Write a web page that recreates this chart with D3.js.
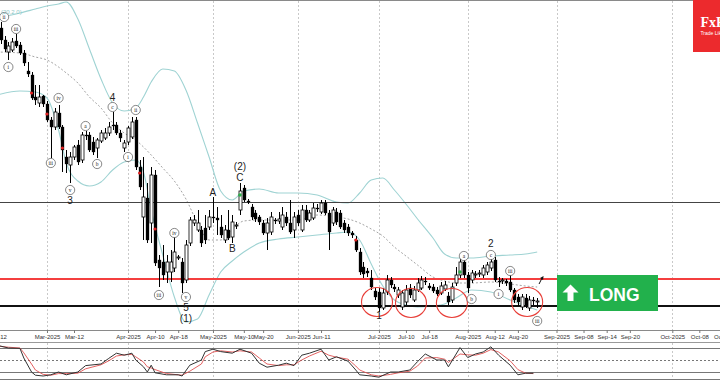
<!DOCTYPE html>
<html><head><meta charset="utf-8">
<script src="https://cdn.jsdelivr.net/npm/d3@7"></script>
<style>body{margin:0;background:#fff}svg{display:block}</style>
</head><body>
<svg id="c" width="720" height="380"></svg>
<script>
// ---------- DATA ----------
const startDate = "2025-02-12"; // first candle, weekdays after that
const opens  = [415,402,390,378,380,389,385,377,359,355,333,327,334,326,310,303,317,303,273,265,273,285,270,295,295,288,282,289,292,297,305,305,297,282,288,293,310,263,213,232,207,255,170,168,158,158,162,172,168,150,187,207,200,200,202,203,213,212,203,190,200,193,204,220,242,229,223,217,213,207,197,198,210,209,203,213,207,200,215,200,220,210,212,222,218,227,217,207,218,217,207,203,197,190,178,163,159,152,139,138,122,138,150,143,135,123,128,142,130,140,142,149,144,143,140,137,141,134,130,147,155,168,155,150,155,156,155,158,162,170,149,149,149,148,140,133,123,132,122,130,128];
const highs  = [420,408,394,388,392,396,388,380,368,358,345,345,335,329,313,322,325,305,280,278,285,290,298,299,298,293,292,300,302,308,318,308,300,290,304,313,313,270,273,247,263,260,175,185,175,180,193,175,172,190,213,215,220,204,215,220,233,223,215,205,220,215,208,247,245,231,226,220,215,210,212,218,212,218,223,218,230,218,220,225,225,220,227,226,230,230,220,223,222,220,210,206,199,194,182,168,162,160,142,142,142,155,153,146,143,140,145,146,144,152,154,153,147,146,143,148,149,138,147,163,171,171,158,160,159,160,165,168,172,173,153,152,151,155,142,136,136,136,134,133,132];
const lows   = [400,386,378,370,378,382,375,364,353,330,325,323,323,308,272,300,301,258,257,247,270,265,267,290,278,275,272,287,290,294,300,295,288,278,285,291,260,240,190,187,187,164,143,150,147,148,158,170,137,147,184,204,198,183,186,200,207,195,192,187,190,187,201,215,228,226,210,208,205,195,180,195,206,206,200,204,196,192,204,198,208,208,210,218,216,215,180,204,205,201,197,194,192,178,155,152,153,140,130,118,120,135,142,138,132,120,125,132,128,138,140,145,140,137,134,135,139,125,127,144,152,152,137,147,152,153,152,155,159,148,143,146,144,138,127,124,120,122,119,125,122];
const closes = [404,390,381,384,388,384,377,367,356,332,330,333,326,310,303,318,303,280,266,273,283,268,295,294,280,278,290,297,297,303,304,297,292,287,302,308,263,243,233,190,255,167,162,155,168,168,178,173,147,185,210,210,207,187,190,213,212,210,195,200,192,208,205,239,230,228,213,211,208,197,207,213,209,211,215,207,198,213,207,220,210,217,222,221,227,217,198,220,208,203,200,197,195,180,158,156,157,143,133,122,137,150,145,141,140,137,140,135,140,147,150,148,142,139,136,144,145,128,143,155,168,155,142,157,156,157,162,165,168,150,148,150,147,140,130,128,133,125,130,129,129];

// Bollinger-band lines, at these candle indices
const bandIdx   = [0,6,10,13,16,18,21,24,27,30,33,36,38,40,43,46,49,52,55,58,61,64,68,73,78,83,88,91,94,97,100,103,106,109,113,116,119,123,128,133,137,140];
const bandUpper = [412,417,421,424,426,428,411,381,351,327,319,322,333,348,361,359,340,307,273,239,230,239,241,237,237,235,228,227,237,250,252,240,226,211,192,176,172,172,174,175,176,178];
const bandMid   = [378,377,373,370,363,357,347,333,322,307,297,290,283,275,262,249,231,207,190,190,201,209,210,210,210,215,213,211,207,201,194,183,174,165,153,149,147,147,148,146,144,143];
const bandLower = [335,339,338,332,300,267,249,244,248,260,268,270,258,220,175,133,108,111,135,158,169,178,187,191,193,195,197,198,190,166,144,130,125,123,124,126,132,140,138,130,124,120];

// Stochastic oscillator (%K black, %D red)
const stochIdx = [0,3,6,7,9,10,12,14,16,18,21,23,27,29,31,33,35,36,38,39,40,41,44,47,48,50,53,54,56,58,61,63,66,68,70,73,75,77,79,81,84,86,88,91,93,94,97,99,102,104,107,109,111,114,116,117,120,122,124,126,128,130,133,135,137,139];
const stochK = [87,80,79,55,20,12,10,13,20,13,20,36,40,54,67,62,67,50,33,20,37,18,13,13,10,37,50,71,77,71,67,77,67,42,32,37,42,36,62,67,77,50,58,47,25,13,10,7,20,20,25,46,65,50,50,33,81,56,65,70,83,62,37,13,17,17];
const stochD = [85,82,80,68,40,25,14,12,16,16,17,28,38,48,60,63,64,58,45,33,30,26,16,13,12,22,40,58,70,73,70,73,70,55,40,36,38,38,50,60,72,62,57,52,35,25,13,10,14,18,22,35,55,56,52,44,65,63,62,67,76,70,48,26,17,16];
const stochLevels = [80, 50, 20];

// horizontal levels
const levelThin = 228, levelRed = 151, levelBlack = 124;

// x-axis ticks
const tickDates  = ["2025-02-12","2025-03-03","2025-03-12","2025-04-01","2025-04-10","2025-04-18","2025-05-01","2025-05-13","2025-05-20","2025-06-02","2025-06-10","2025-07-01","2025-07-10","2025-07-18","2025-08-01","2025-08-12","2025-08-20","2025-09-01","2025-09-08","2025-09-14","2025-09-20","2025-10-01","2025-10-08","2025-10-14"];
const tickLabels = ["Feb-12","Mar-2025","Mar-12","Apr-2025","Apr-10","Apr-18","May-2025","May-10","May-20","Jun-2025","Jun-11","Jul-2025","Jul-10","Jul-18","Aug-2025","Aug-12","Aug-20","Sep-2025","Sep-08","Sep-14","Sep-20","Oct-2025","Oct-08","Oct-14"];
const monthStarts = ["2025-03-03","2025-04-01","2025-05-01","2025-06-02","2025-07-01","2025-08-01","2025-09-01","2025-10-01"];

// wave labels: text, candle index, price, circled?
const waveText   = ["ii","i","iii","iii","iv","v","3","a","b","c","4","i","ii","iii","iv","v","5","(1)","A","B","(2)","C","1","a","b","c","2","i","iii","iii"];
const waveIdx    = [1.9,3,5,14,16,19,19,23,26,30,30,34,36,42,46,49,49,49,56,61,63,63,99,121,123,128,128,130,133,140];
const wavePrice  = [413,363,401,267,332,240,230,304,266,323,333,273,320,135,197,133,123,112,238,182,264,253,115,174,131,175,187,136,159,109];
const waveCircle = [1,1,1,1,1,1,0,1,1,1,0,1,1,1,1,1,0,0,0,0,0,0,0,1,1,1,0,1,1,1];

// signal dots
const redDotIdx = [9,13,17,37,41,93], redDotPrice = [337,316,282,257,201,190];
const greenDotIdx = [63,120], greenDotPrice = [235,158];

// red rings around the lows
const ringIdx = [98.5,107.3,117.9,137.4], ringPrice = [128,127,127,128];

// ---------- BUILD ----------
const parse = d3.timeParse("%Y-%m-%d");
const dates = [];
{ let d = parse(startDate); while (dates.length < opens.length) { const w = d.getDay(); if (w !== 0 && w !== 6) dates.push(new Date(d)); d = d3.timeDay.offset(d, 1); } }
const lastDate = dates[dates.length - 1];
function slotOf(ds) {
  const d = parse(ds);
  if (d <= lastDate) { const i = dates.findIndex(t => +t >= +d); return i; }
  return dates.length - 1 + d3.timeDay.count(lastDate, d);
}

const W = 720;
const x = d3.scaleLinear().domain([0, 200]).range([-3.2, -3.2 + 200 * 3.86]);
const y = d3.scaleLinear().domain([100, 430]).range([330, 0]);
const ys = d3.scaleLinear().domain([0, 100]).range([380, 340]);

const svg = d3.select("#c");
svg.append("rect").attr("width", 720).attr("height", 380).attr("fill", "#fff");
const defs = svg.append("defs");
defs.append("clipPath").attr("id", "main").append("rect").attr("x", 0).attr("y", 1).attr("width", 720).attr("height", 329);
defs.append("clipPath").attr("id", "sub").append("rect").attr("x", 0).attr("y", 343).attr("width", 720).attr("height", 37);

// vertical month grid
const grid = svg.append("g").attr("stroke", "#c9c9c9").attr("stroke-dasharray", "2,2").attr("stroke-width", 1);
monthStarts.forEach(m => {
  const xx = Math.round(x(slotOf(m))) + 0.5;
  grid.append("line").attr("x1", xx).attr("x2", xx).attr("y1", 1).attr("y2", 330);
  grid.append("line").attr("x1", xx).attr("x2", xx).attr("y1", 343).attr("y2", 379);
});

// top border
svg.append("line").attr("x1", 0).attr("x2", W).attr("y1", 0.5).attr("y2", 0.5).attr("stroke", "#8a8a8a");

const main = svg.append("g").attr("clip-path", "url(#main)");

// bands
const lineB = d3.line().x((d, i) => x(bandIdx[i])).y(d => y(d)).curve(d3.curveMonotoneX);
main.append("path").attr("d", lineB(bandUpper)).attr("fill", "none").attr("stroke", "#9fd3d3").attr("stroke-width", 1.1);
main.append("path").attr("d", lineB(bandLower)).attr("fill", "none").attr("stroke", "#9fd3d3").attr("stroke-width", 1.1);
main.append("path").attr("d", lineB(bandMid)).attr("fill", "none").attr("stroke", "#9a9a9a").attr("stroke-width", 0.9).attr("stroke-dasharray", "2,2");

// horizontal levels
main.append("line").attr("x1", 0).attr("x2", W).attr("y1", Math.round(y(levelThin)) + 0.5).attr("y2", Math.round(y(levelThin)) + 0.5).attr("stroke", "#444").attr("stroke-width", 1);
main.append("line").attr("x1", 0).attr("x2", W).attr("y1", y(levelRed)).attr("y2", y(levelRed)).attr("stroke", "#f43f3f").attr("stroke-width", 2.2);
main.append("line").attr("x1", 0).attr("x2", W).attr("y1", y(levelBlack)).attr("y2", y(levelBlack)).attr("stroke", "#111").attr("stroke-width", 2);

// candles
const cg = main.append("g");
opens.forEach((o, i) => {
  const c = closes[i], cx = Math.round(x(i)) + 0.5;
  cg.append("line").attr("x1", cx).attr("x2", cx).attr("y1", y(highs[i])).attr("y2", y(lows[i])).attr("stroke", "#000").attr("stroke-width", 1);
  const top = y(Math.max(o, c)), bot = y(Math.min(o, c));
  const up = c >= o;
  cg.append("rect").attr("x", cx - 1.5).attr("y", top).attr("width", 3).attr("height", Math.max(1, bot - top))
    .attr("fill", up ? "#fff" : "#000").attr("stroke", "#000").attr("stroke-width", up ? 0.8 : 0.3);
});

// signal dots
redDotIdx.forEach((d, i) => main.append("circle").attr("cx", x(d)).attr("cy", y(redDotPrice[i])).attr("r", 1.6).attr("fill", "#e02020"));
greenDotIdx.forEach((d, i) => main.append("circle").attr("cx", x(d)).attr("cy", y(greenDotPrice[i])).attr("r", 1.8).attr("fill", "#2fb14a"));

// red rings
ringIdx.forEach((d, i) => main.append("ellipse").attr("cx", x(d)).attr("cy", y(ringPrice[i])).attr("rx", 15.5).attr("ry", 14.5)
  .attr("fill", "none").attr("stroke", "#e8403a").attr("stroke-width", 1.1));

// wave labels
waveText.forEach((t, i) => {
  const cx = x(waveIdx[i]), cy = y(wavePrice[i]);
  if (waveCircle[i]) {
    main.append("circle").attr("cx", cx).attr("cy", cy).attr("r", 4.6).attr("fill", "#fff").attr("stroke", "#555").attr("stroke-width", 0.7);
    main.append("text").attr("x", cx).attr("y", cy + 0.3).attr("text-anchor", "middle").attr("dominant-baseline", "central")
      .attr("font-family", "Liberation Serif").attr("font-size", 5.5).attr("fill", "#222").text(t);
  } else {
    main.append("text").attr("x", cx).attr("y", cy).attr("text-anchor", "middle").attr("dominant-baseline", "central")
      .attr("font-family", "Liberation Sans").attr("font-size", 10).attr("fill", "#222").text(t);
  }
});

// small arrow at the end
{
  const ax = x(141), ay = y(150);
  main.append("path").attr("d", `M${ax-2},${ay+4} L${ax+1},${ay-2}`).attr("stroke", "#111").attr("stroke-width", 1);
  main.append("path").attr("d", `M${ax+2.5},${ay-4} L${ax-1},${ay-2} L${ax+2},${ay} Z`).attr("fill", "#111");
}

// indicator caption
svg.append("text").attr("x", 1).attr("y", 14).attr("font-family", "Liberation Sans").attr("font-size", 6).attr("fill", "#8cc6c6").text("(20,2.0)");

// LONG box
{
  const g = svg.append("g");
  g.append("rect").attr("x", 557).attr("y", 275).attr("width", 101).attr("height", 36).attr("fill", "#22b14c");
  g.append("path").attr("d", "M570.5,284.5 L578.5,292.5 L573.5,292.5 L573.5,301 L567.5,301 L567.5,292.5 L562.5,292.5 Z").attr("fill", "#fff");
  g.append("text").attr("x", 589).attr("y", 300.5).attr("font-family", "Liberation Sans").attr("font-weight", "bold").attr("font-size", 17.5).attr("fill", "#fff").text("LONG");
}

// logo
{
  const g = svg.append("g");
  g.append("rect").attr("x", 693).attr("y", 0).attr("width", 27).attr("height", 52).attr("fill", "#ec2a2d");
  g.append("text").attr("x", 700.5).attr("y", 27).attr("font-family", "Liberation Serif").attr("font-weight", "bold").attr("font-size", 14).attr("fill", "#fff").text("FxPro");
  g.append("text").attr("x", 700.5).attr("y", 34.5).attr("font-family", "Liberation Sans").attr("font-size", 5).attr("fill", "#fff").text("Trade Like a Pro");
}

// x axis
const tickSlots = tickDates.map(slotOf);
const axis = d3.axisBottom(x).tickValues(tickSlots).tickFormat((d, i) => tickLabels[i]).tickSize(3).tickPadding(1.5);
const ag = svg.append("g").attr("transform", "translate(0,330)").call(axis);
ag.select(".domain").attr("stroke", "#8a8a8a").attr("d", "M0,0.5H720");
ag.selectAll(".tick line").attr("stroke", "#777");
ag.selectAll(".tick text").attr("font-family", "Liberation Sans").attr("font-size", 6).attr("fill", "#333");

// stochastic panel
svg.append("line").attr("x1", 0).attr("x2", W).attr("y1", 342.5).attr("y2", 342.5).attr("stroke", "#9a9a9a");
svg.append("line").attr("x1", 0).attr("x2", W).attr("y1", 379.5).attr("y2", 379.5).attr("stroke", "#777");
stochLevels.forEach(l => {
  svg.append("line").attr("x1", 0).attr("x2", W).attr("y1", Math.round(ys(l)) + 0.5).attr("y2", Math.round(ys(l)) + 0.5)
    .attr("stroke", "#777").attr("stroke-width", 1).attr("stroke-dasharray", l === 50 ? "2,2" : null);
});
const sub = svg.append("g").attr("clip-path", "url(#sub)");
const lineS = d3.line().x((d, i) => x(stochIdx[i])).y(d => ys(d));
sub.append("path").attr("d", lineS(stochD)).attr("fill", "none").attr("stroke", "#e05050").attr("stroke-width", 0.9);
sub.append("path").attr("d", lineS(stochK)).attr("fill", "none").attr("stroke", "#333").attr("stroke-width", 1);
</script>
</body></html>
